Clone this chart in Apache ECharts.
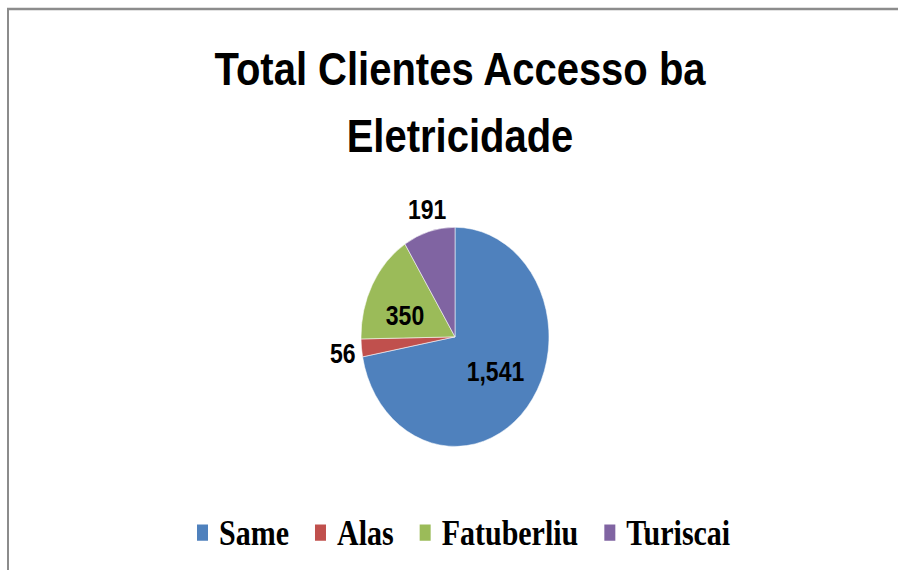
<!DOCTYPE html>
<html>
<head>
<meta charset="utf-8">
<script src="https://cdn.jsdelivr.net/npm/echarts@6/dist/echarts.min.js"></script>
<style>
  html, body { margin: 0; padding: 0; background: #fff; overflow: hidden; }
  #wrap { width: 898px; height: 570px; overflow: hidden; }
  /* the source picture is stretched vertically, so the chart is drawn short and scaled up */
  #chart { width: 898px; height: 489px; transform: scaleY(1.1656); transform-origin: 0 0; }
</style>
</head>
<body>
<div id="wrap"><div id="chart"></div></div>
<script>
const titleText = 'Total Clientes Accesso ba\nEletricidade';
const categories = ['Same', 'Alas', 'Fatuberliu', 'Turiscai'];
const values = [1541, 56, 350, 191];
const labelInside = [true, false, true, false];

const palette = ['#4F81BD', '#C0504D', '#9BBB59', '#8064A2'];
const sansFont = '"Liberation Sans", Arial, sans-serif';
const serifFont = '"Liberation Serif", "Times New Roman", serif';

// small nudges so the labels sit where Excel put them
const labelNudge = [[2, -2], [5, 4], [-6, 5], [24, -13]];

const chart = echarts.init(document.getElementById('chart'), null, { renderer: 'svg' });

chart.setOption({
  animation: false,
  color: palette,
  graphic: [
    {
      type: 'rect',
      shape: { x: 8, y: 7.7, width: 1000, height: 600 },
      style: { fill: 'none', stroke: '#8c8c8c', lineWidth: 2 }
    }
  ],
  title: {
    text: titleText,
    left: 455,
    textAlign: 'center',
    top: 25,
    textStyle: {
      fontFamily: sansFont,
      fontWeight: 'bold',
      fontSize: 40,
      lineHeight: 58,
      color: '#000'
    }
  },
  legend: {
    data: categories,
    left: 190,
    top: 437,
    itemWidth: 13,
    itemHeight: 16,
    itemGap: 24,
    icon: 'rect',
    textStyle: {
      fontFamily: serifFont,
      fontWeight: 'bold',
      fontSize: 30,
      color: '#000',
      padding: [0, 0, 0, 5]
    }
  },
  series: [
    {
      type: 'pie',
      center: [455, 289],
      radius: 94,
      startAngle: 90,
      clockwise: true,
      itemStyle: { borderColor: '#fff', borderWidth: 0.5 },
      label: {
        fontFamily: sansFont,
        fontWeight: 'bold',
        fontSize: 23,
        color: '#000',
        formatter: p => p.value.toLocaleString('en-US')
      },
      labelLine: { show: false, length: 6, length2: 0 },
      labelLayout: p => ({ dx: labelNudge[p.dataIndex][0], dy: labelNudge[p.dataIndex][1] }),
      data: categories.map((name, i) => ({
        name,
        value: values[i],
        label: { position: labelInside[i] ? 'inside' : 'outside' }
      }))
    }
  ]
});
</script>
</body>
</html>
